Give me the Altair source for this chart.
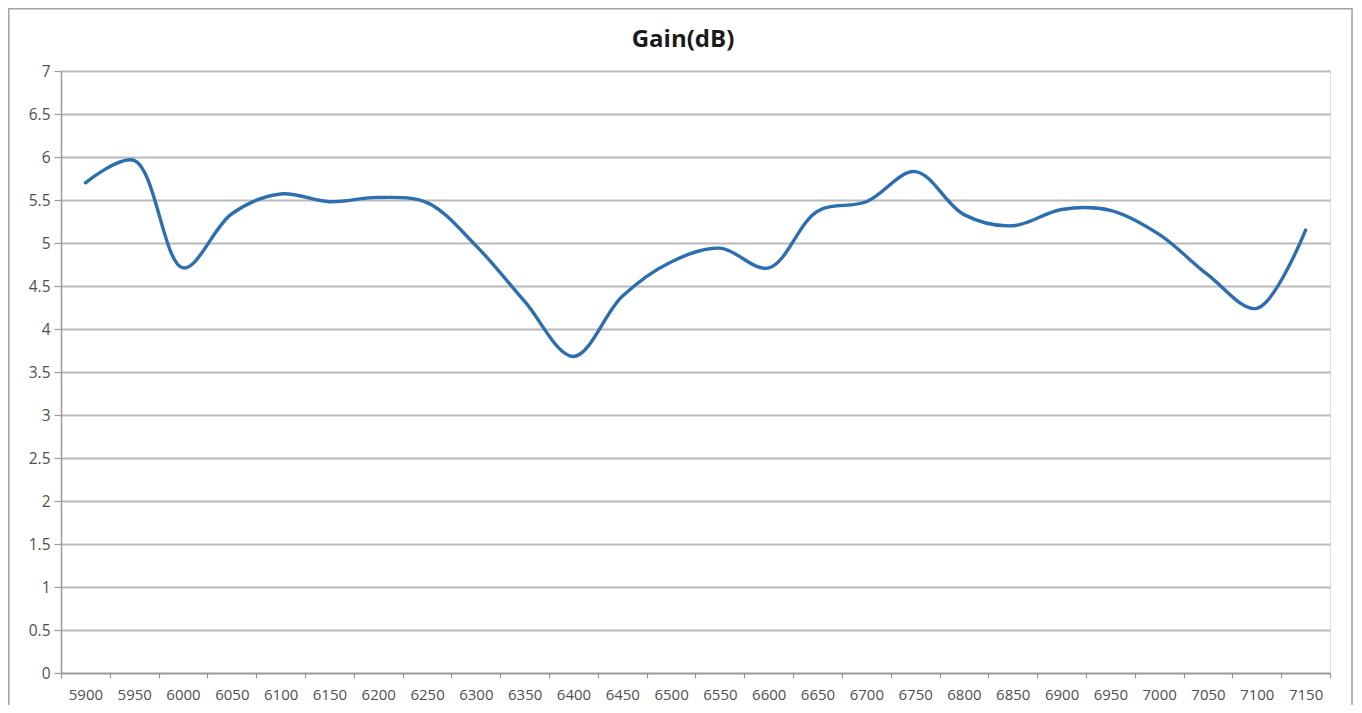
import altair as alt
import pandas as pd

freq = ["5900", "5950", "6000", "6050", "6100", "6150", "6200", "6250", "6300",
        "6350", "6400", "6450", "6500", "6550", "6600", "6650", "6700", "6750",
        "6800", "6850", "6900", "6950", "7000", "7050", "7100", "7150"]
gain = [5.70, 5.96, 4.71, 5.34, 5.57, 5.48, 5.53, 5.47, 4.97,
        4.32, 3.68, 4.38, 4.78, 4.94, 4.71, 5.37, 5.48, 5.83,
        5.33, 5.20, 5.39, 5.38, 5.10, 4.63, 4.24, 5.15]
y_ticks = [0, 0.5, 1, 1.5, 2, 2.5, 3, 3.5, 4, 4.5, 5, 5.5, 6, 6.5, 7]
title_text = ["Gain(dB)"]

df = pd.DataFrame({"freq": freq, "gain": gain})

W, H = 1269, 602
FONT = "Open Sans"
GRID = "#bababa"
AXC = "#9a9a9a"
LBL = "#505050"

line = alt.Chart(df).mark_line(
    interpolate="catmull-rom", color="#2d6fae", strokeWidth=3.4,
    strokeCap="round", strokeJoin="round"
).encode(
    x=alt.X("freq:N", sort=freq,
            scale=alt.Scale(type="band", paddingInner=0, paddingOuter=0),
            axis=alt.Axis(title=None, labelAngle=0, tickBand="extent",
                          grid=False, domain=True, domainColor=AXC,
                          domainWidth=1.5, tickColor=AXC, tickWidth=1.2,
                          tickSize=5, labelFont=FONT, labelFontSize=15,
                          labelColor=LBL, labelPadding=9)),
    y=alt.Y("gain:Q", scale=alt.Scale(domain=[0, 7], nice=False),
            axis=alt.Axis(title=None, values=y_ticks, format="~g",
                          grid=True, gridColor=GRID, gridWidth=1.8,
                          domain=True, domainColor=AXC, domainWidth=1.5,
                          tickColor=AXC, tickWidth=1.2, tickSize=7,
                          labelFont=FONT, labelFontSize=15.5,
                          labelColor=LBL, labelPadding=4)),
)

frame = alt.Chart(pd.DataFrame({"a": [0]})).mark_rect(
    fill=None, stroke="#a0a0a0", strokeWidth=1.5
).encode(
    x=alt.value(-52.2), x2=alt.value(W + 22),
    y=alt.value(-62.2), y2=alt.value(H + 80),
)

title = alt.Chart(pd.DataFrame({"t": title_text})).mark_text(
    font=FONT, fontSize=24, fontWeight="bold", color="#1a1a1a",
    align="center", baseline="alphabetic"
).encode(
    text="t:N", x=alt.value(622), y=alt.value(-24),
)

chart = alt.layer(frame, line, title).properties(
    width=W, height=H,
    autosize=alt.AutoSizeParams(type="none"),
    padding={"left": 53, "top": 63, "right": 24, "bottom": 32},
).configure_view(stroke=None).configure(background="white")

chart.save("out.html", embed_options={"renderer": "svg", "actions": False})
